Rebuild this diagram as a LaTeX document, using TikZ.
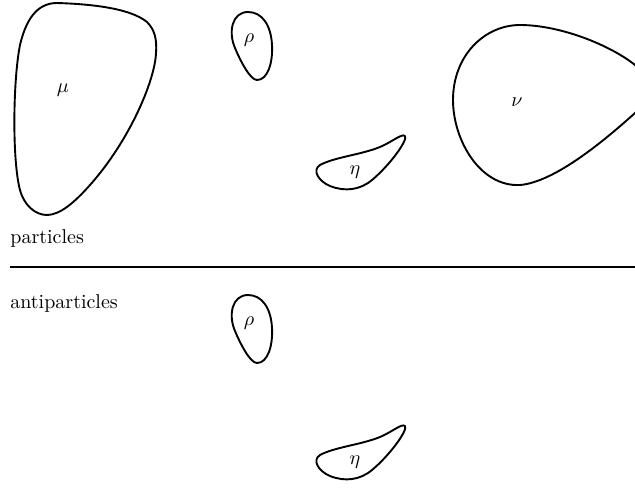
\documentclass[tikz,border=0pt]{standalone}
\begin{document}
\begin{tikzpicture}[x=0.5pt,y=-0.5pt]
\tikzset{blob/.style={line width=0.95pt, line join=round},
         lab/.style={inner sep=0pt}}
\useasboundingbox (0,0) rectangle (635,487);
\clip (0,0) rectangle (635,487);
\newcommand{\rhoshape}{(248,12) .. controls (262,12) and (271,25) .. (272,45)
  .. controls (273,62) and (268,80) .. (257,80)
  .. controls (250,80) and (240,60) .. (235,48)
  .. controls (228,32) and (232,12) .. (248,12) -- cycle}
\newcommand{\etashape}{(320,165) .. controls (335,157) and (360,155) .. (380,147)
  .. controls (392,142) and (402,133) .. (405,136)
  .. controls (408,140) and (390,165) .. (372,180)
  .. controls (360,190) and (345,192) .. (330,186)
  .. controls (318,181) and (312,170) .. (320,165) -- cycle}
% mu
\draw[blob] (57,3) .. controls (90,4) and (130,8) .. (147,22)
  .. controls (155,30) and (157,40) .. (156,53)
  .. controls (155,80) and (130,140) .. (90,185)
  .. controls (75,202) and (60,215) .. (47,215)
  .. controls (35,215) and (24,205) .. (20,190)
  .. controls (12,160) and (13,80) .. (20,45)
  .. controls (27,15) and (40,3) .. (57,3) -- cycle;
\node[lab] (mu) at (63,90) {$\mu$};
% rho
\draw[blob] \rhoshape;
\node[lab] (rho) at (249,40) {$\rho$};
% eta
\draw[blob] \etashape;
\node[lab] (eta) at (355,172) {$\eta$};
% nu
\draw[blob] (520,25) .. controls (560,25) and (610,45) .. (635,65)
  .. controls (650,78) and (650,100) .. (635,113)
  .. controls (605,140) and (555,182) .. (520,185)
  .. controls (480,187) and (453,140) .. (453,100)
  .. controls (453,55) and (485,25) .. (520,25) -- cycle;
\node[lab] (nu) at (517,102) {$\nu$};
% labels and separator
\node[lab, anchor=west] (part) at (10,238) {particles};
\coordinate (sepL) at (10,267);
\coordinate (sepR) at (635,267);
\draw[line width=0.95pt] (sepL) -- (sepR);
\node[lab, anchor=west] (anti) at (10,303) {antiparticles};
% antiparticles
\begin{scope}[yshift=-283*0.5pt]
\draw[blob] \rhoshape;
\node[lab] (rhob) at (249,40) {$\rho$};
\end{scope}
\begin{scope}[yshift=-290*0.5pt]
\draw[blob] \etashape;
\node[lab] (etab) at (355,172) {$\eta$};
\end{scope}
\end{tikzpicture}
\end{document}
